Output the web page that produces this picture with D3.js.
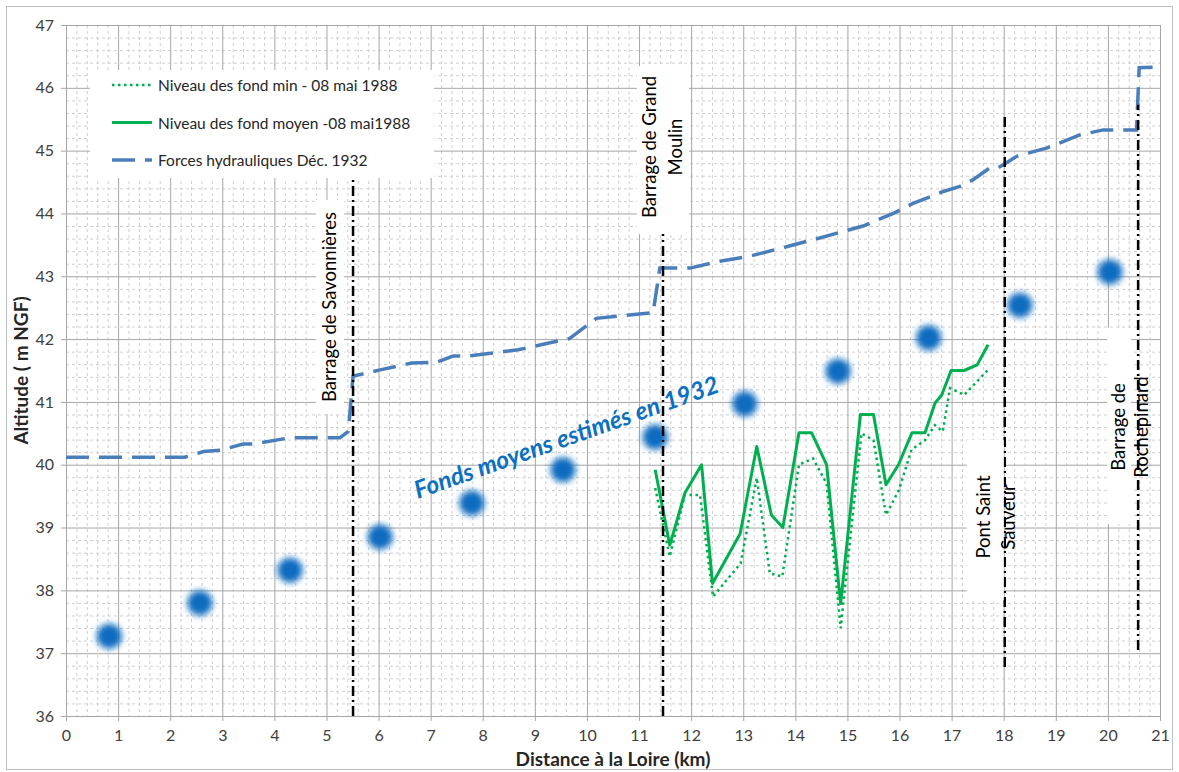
<!DOCTYPE html>
<html>
<head>
<meta charset="utf-8">
<script src="https://cdn.jsdelivr.net/npm/d3@7"></script>
<style>
  body { margin: 0; background: #fff; }
  svg text { font-family: Lato, "Open Sans", sans-serif; }
</style>
</head>
<body>
<div id="chart"></div>
<script>
/* Profil en long — altitude des fonds vs distance à la Loire */

// Forces hydrauliques Déc. 1932 (dashed blue)
const hydroX = [0, 2.28, 2.64, 2.96, 3.4, 3.6, 4.3, 5.26, 5.42, 5.51, 6.03, 6.64, 7.11, 7.43, 7.72, 8.68, 9.67, 10.18, 11.27, 11.4, 11.98, 12.55, 13.13, 13.83, 14.47, 15.3, 15.88, 16.26, 16.84, 17.16, 17.42, 17.74, 17.9, 18.06, 18.25, 18.82, 19.46, 19.91, 20.55, 20.6, 21];
const hydroY = [40.12, 40.12, 40.21, 40.23, 40.33, 40.33, 40.43, 40.43, 40.53, 41.41, 41.51, 41.62, 41.63, 41.73, 41.73, 41.83, 42.01, 42.33, 42.42, 43.13, 43.13, 43.24, 43.32, 43.47, 43.61, 43.8, 44.0, 44.16, 44.35, 44.43, 44.54, 44.73, 44.73, 44.81, 44.91, 45.04, 45.25, 45.33, 45.33, 46.32, 46.33];

// Niveau des fond moyen - 08 mai 1988 (solid green)
const moyX = [11.31, 11.59, 11.88, 12.2, 12.41, 12.94, 13.26, 13.54, 13.76, 14.07, 14.31, 14.6, 14.87, 15.25, 15.5, 15.74, 15.98, 16.24, 16.49, 16.68, 16.81, 16.99, 17.24, 17.49, 17.7];
const moyY = [39.92, 38.72, 39.55, 40.0, 38.11, 38.9, 40.29, 39.2, 39.0, 40.51, 40.51, 40.0, 37.79, 40.8, 40.8, 39.68, 40.0, 40.51, 40.51, 40.98, 41.11, 41.5, 41.5, 41.59, 41.91];

// Niveau des fond min - 08 mai 1988 (dotted green)
const minX = [11.31, 11.59, 11.88, 12.17, 12.42, 12.95, 13.26, 13.51, 13.75, 14.07, 14.34, 14.6, 14.87, 15.27, 15.5, 15.74, 15.99, 16.23, 16.49, 16.68, 16.83, 16.97, 17.24, 17.48, 17.7];
const minY = [39.63, 38.54, 39.52, 39.52, 37.9, 38.43, 39.79, 38.27, 38.22, 40.0, 40.1, 39.7, 37.4, 40.5, 40.39, 39.2, 39.6, 40.24, 40.39, 40.63, 40.53, 41.22, 41.11, 41.32, 41.51];

// Fonds moyens estimés en 1932 (blurred dots)
const estX = [0.83, 2.57, 4.3, 6.03, 7.79, 9.54, 11.31, 13.03, 14.82, 16.56, 18.31, 20.04];
const estY = [37.27, 37.8, 38.32, 38.85, 39.39, 39.92, 40.44, 40.97, 41.49, 42.02, 42.54, 43.07];

// Ouvrages (vertical dash-dot lines)
const ouvrageLabels = [["Barrage de Savonnières"], ["Barrage de Grand", "Moulin"], ["Pont Saint", "Sauveur"], ["Barrage de", "Rochepinard"]];
const ouvrageX = [5.51, 11.46, 18.02, 20.58];
const ouvrageBottom = [36, 36, 36.78, 37.05];
const ouvrageTop = [44.66, 45.25, 45.54, 45.73];

const xTicks = d3.range(0, 22);
const yTicks = d3.range(36, 48);

const legendLabels = ["Niveau des fond min - 08 mai 1988", "Niveau des fond moyen -08 mai1988", "Forces hydrauliques Déc. 1932"];

const W = 1179, H = 772;
const margin = { top: 25, right: 19, bottom: 56, left: 66 };
const w = W - margin.left - margin.right;
const h = H - margin.top - margin.bottom;

const GREEN = "#00b050", BLUE = "#4a7ebb", DOT = "#0a6cc0";

const svg = d3.select("#chart").append("svg")
  .attr("width", W).attr("height", H);

svg.append("rect")
  .attr("x", 6.5).attr("y", 6.5).attr("width", W - 13).attr("height", H - 9)
  .attr("fill", "#fff").attr("stroke", "#bfbfbf");

const defs = svg.append("defs");
defs.append("filter").attr("id", "blur")
  .attr("x", "-100%").attr("y", "-100%").attr("width", "300%").attr("height", "300%")
  .append("feGaussianBlur").attr("stdDeviation", 3.2);

const g = svg.append("g").attr("transform", `translate(${margin.left},${margin.top})`);

const x = d3.scaleLinear().domain([0, 21]).range([0, w]);
const y = d3.scaleLinear().domain([36, 47]).range([h, 0]);

/* minor grid */
g.append("g")
  .call(d3.axisBottom(x).tickValues(d3.range(0, 105).map(i => i / 5).filter(v => v % 1 !== 0))
    .tickSize(h).tickFormat(""))
  .call(a => a.select(".domain").remove())
  .call(a => a.selectAll("line").attr("stroke", "#cfcfcf").attr("stroke-dasharray", "3,3"));
g.append("g")
  .call(d3.axisLeft(y).tickValues(d3.range(0, 55).map(i => 36 + i / 5).filter(v => Math.abs(v - Math.round(v)) > 0.01))
    .tickSize(-w).tickFormat(""))
  .call(a => a.select(".domain").remove())
  .call(a => a.selectAll("line").attr("stroke", "#cfcfcf").attr("stroke-dasharray", "3,3"));

/* major grid */
g.append("g")
  .call(d3.axisBottom(x).tickValues(xTicks).tickSize(h).tickFormat(""))
  .call(a => a.select(".domain").remove())
  .call(a => a.selectAll("line").attr("stroke", "#a6a6a6"));
g.append("g")
  .call(d3.axisLeft(y).tickValues(yTicks).tickSize(-w).tickFormat(""))
  .call(a => a.select(".domain").remove())
  .call(a => a.selectAll("line").attr("stroke", "#a6a6a6"));

/* axes */
g.append("g")
  .attr("transform", `translate(0,${h})`)
  .call(d3.axisBottom(x).tickValues(xTicks).tickSize(5).tickPadding(9))
  .call(a => a.selectAll("line,path").attr("stroke", "#a6a6a6"))
  .call(a => a.selectAll("text").attr("fill", "#404040").style("font-size", "16px"));
g.append("g")
  .call(d3.axisLeft(y).tickValues(yTicks).tickSize(5).tickPadding(7))
  .call(a => a.selectAll("line,path").attr("stroke", "#a6a6a6"))
  .call(a => a.selectAll("text").attr("fill", "#404040").style("font-size", "16px"));

svg.append("text")
  .attr("x", margin.left + x(10.5)).attr("y", H - 6)
  .attr("text-anchor", "middle").attr("font-weight", "bold")
  .attr("fill", "#262626").style("font-size", "19px")
  .text("Distance à la Loire (km)");
svg.append("text")
  .attr("transform", `translate(28,${margin.top + y(41.5)}) rotate(-90)`)
  .attr("text-anchor", "middle").attr("font-weight", "bold")
  .attr("fill", "#262626").style("font-size", "19px")
  .text("Altitude ( m NGF)");

/* label boxes behind lines */
const boxes = [
  { i: 0, dx: -37, w: 28, y0: 200, y1: 414, tx: [-24] },
  { i: 1, dx: -26, w: 52, y0: 66, y1: 234, tx: [-14, 12] },
  { i: 2, dx: -38, w: 37, y0: 440, y1: 600, tx: [-22, 3] },
  { i: 3, dx: -31, w: 24, y0: 328, y1: 524, tx: [-20, 3] }
];
const cy = [307, 147, 517, 427];
boxes.forEach(b => {
  const px = margin.left + x(ouvrageX[b.i]);
  svg.append("rect")
    .attr("x", px + b.dx).attr("y", b.y0)
    .attr("width", b.w).attr("height", b.y1 - b.y0)
    .attr("fill", "#fff");
});

/* estimated 1932 dots */
g.append("g").selectAll("circle")
  .data(estX.map((v, i) => [v, estY[i]]))
  .join("circle")
    .attr("cx", d => x(d[0])).attr("cy", d => y(d[1]))
    .attr("r", 12.5)
    .attr("fill", DOT)
    .attr("filter", "url(#blur)");

/* lines */
const line = d3.line().x(d => x(d[0])).y(d => y(d[1]));

g.append("path")
  .datum(hydroX.map((v, i) => [v, hydroY[i]]))
  .attr("d", line).attr("fill", "none")
  .attr("stroke", BLUE).attr("stroke-width", 3.5)
  .attr("stroke-dasharray", "23,10");

g.append("path")
  .datum(minX.map((v, i) => [v, minY[i]]))
  .attr("d", line).attr("fill", "none")
  .attr("stroke", GREEN).attr("stroke-width", 2.5)
  .attr("stroke-dasharray", "2.5,3.5");

g.append("path")
  .datum(moyX.map((v, i) => [v, moyY[i]]))
  .attr("d", line).attr("fill", "none")
  .attr("stroke", GREEN).attr("stroke-width", 3)
  .attr("stroke-linejoin", "round");

/* vertical dash-dot markers */
g.append("g").selectAll("line")
  .data(ouvrageX)
  .join("line")
    .attr("x1", d => x(d)).attr("x2", d => x(d))
    .attr("y1", (d, i) => y(ouvrageBottom[i])).attr("y2", (d, i) => y(ouvrageTop[i]))
    .attr("stroke", "#000").attr("stroke-width", 2.5)
    .attr("stroke-dasharray", "10,4,2,4");

/* ouvrage labels */
boxes.forEach(b => {
  const px = margin.left + x(ouvrageX[b.i]);
  ouvrageLabels[b.i].forEach((t, k) => {
    svg.append("text")
      .attr("transform", `translate(${px + b.tx[k]},${cy[b.i]}) rotate(-90)`)
      .attr("text-anchor", "middle").attr("dominant-baseline", "central")
      .attr("fill", "#000").style("font-size", "18.5px")
      .text(t);
  });
});

/* annotation along the estimated dots */
const a0 = [x(estX[4]) - 54, y(estY[4]) - 4];
svg.append("text")
  .attr("transform", `translate(${margin.left + a0[0]},${margin.top + a0[1]}) rotate(-19.5)`)
  .attr("fill", "#0b70c2").attr("font-weight", "bold").attr("font-style", "italic")
  .style("font-size", "24.5px")
  .text("Fonds moyens estimés en 1932");

/* legend */
const lg = svg.append("g").attr("transform", "translate(90,70)");
lg.append("rect").attr("width", 344).attr("height", 108).attr("fill", "#fff");
const legStyles = [
  { stroke: GREEN, width: 2.5, dash: "2.5,3.5" },
  { stroke: GREEN, width: 3, dash: null },
  { stroke: BLUE, width: 3.5, dash: "23,10" }
];
legendLabels.forEach((t, i) => {
  const ly = 15 + i * 37.5;
  lg.append("line")
    .attr("x1", 22).attr("x2", 62).attr("y1", ly).attr("y2", ly)
    .attr("stroke", legStyles[i].stroke).attr("stroke-width", legStyles[i].width)
    .attr("stroke-dasharray", legStyles[i].dash);
  lg.append("text")
    .attr("x", 68).attr("y", ly).attr("dominant-baseline", "central")
    .attr("fill", "#262626").style("font-size", "15.5px")
    .text(t);
});
</script>
</body>
</html>
